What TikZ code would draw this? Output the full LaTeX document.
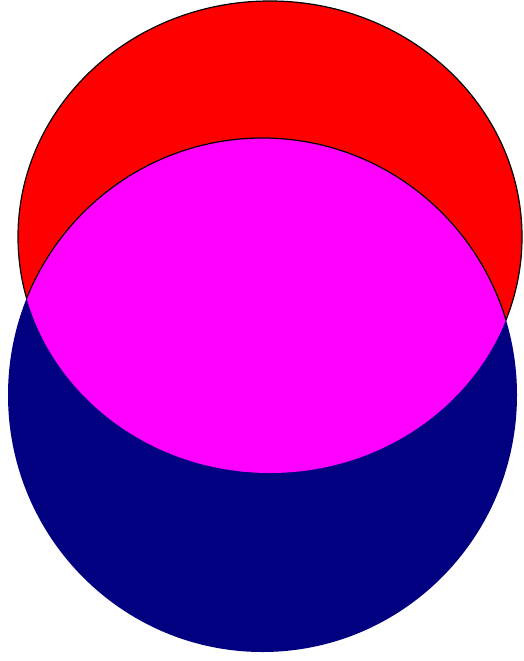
\documentclass[tikz,border=0pt]{standalone}
\definecolor{navyb}{RGB}{0,0,128}
\definecolor{redf}{RGB}{255,0,0}
\definecolor{magf}{RGB}{255,0,255}
\begin{document}
\begin{tikzpicture}[x=1pt,y=-1pt,
  edge/.style={draw=black,line width=1.2pt}]
\useasboundingbox (0,0) rectangle (523,661);
% red ellipse
\fill[redf] (270,237) ellipse [x radius=252, y radius=236];
\draw[edge] (270,237) ellipse [x radius=252, y radius=236];
% blue ellipse
\fill[navyb] (262.5,395) ellipse [x radius=254.5, y radius=257];
% intersection
\begin{scope}
\clip (270,237) ellipse [x radius=252, y radius=236];
\fill[magf] (262.5,395) ellipse [x radius=254.5, y radius=257];
\draw[edge] (262.5,395) ellipse [x radius=254.5, y radius=257];
\end{scope}
\end{tikzpicture}
\end{document}
